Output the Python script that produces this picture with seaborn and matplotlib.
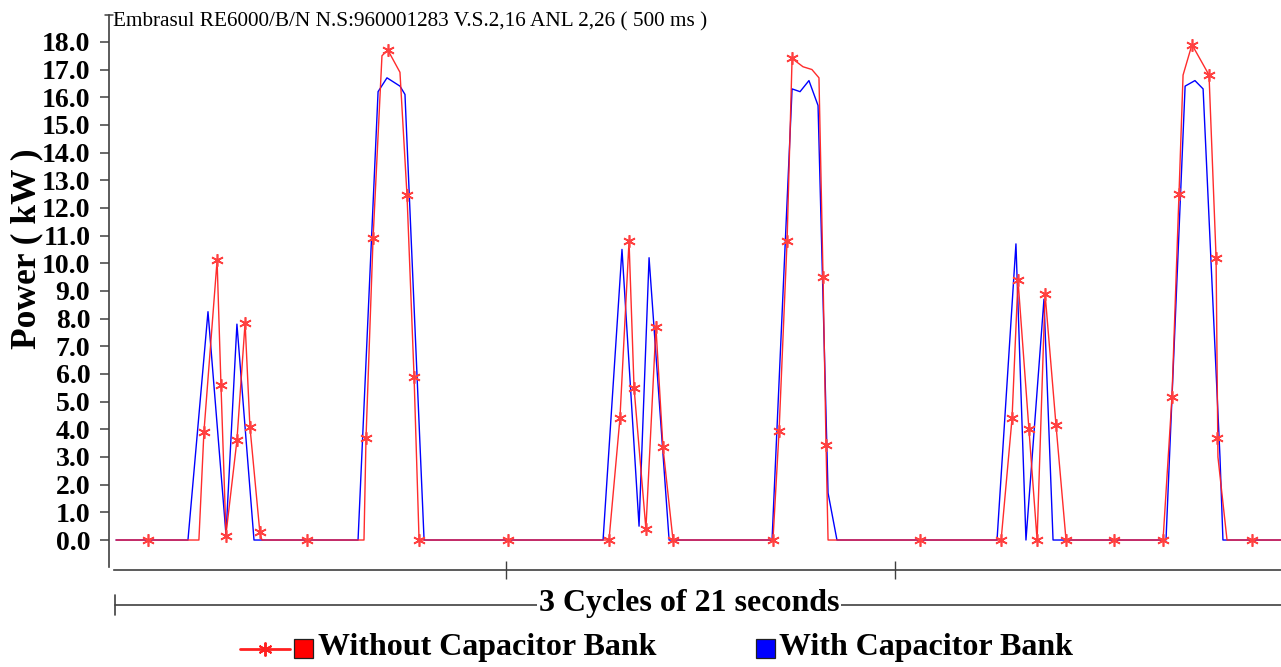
import matplotlib
matplotlib.use("Agg")
import matplotlib.pyplot as plt
from matplotlib.patches import Rectangle
import seaborn as sns
import pandas as pd

# ---------------- data (time in seconds, power in kW) ----------------
red_t = [0.0, 4.47, 4.74, 5.45, 5.66, 5.93, 6.52, 6.96, 7.22, 7.76, 7.87,
         13.37, 13.48, 13.86, 14.34, 14.66, 15.31, 15.69, 16.07, 16.34,
         26.58, 27.17, 27.66, 27.93, 28.57, 29.11, 29.49, 30.03,
         35.42, 35.75, 36.18, 36.45, 37.04, 37.52, 37.90, 38.12, 38.28, 38.39,
         47.72, 48.31, 48.63, 49.22, 49.66, 50.09, 50.68, 51.22,
         56.45, 56.93, 57.31, 57.53, 58.01, 58.93, 59.31, 59.41, 59.90, 62.81]
red_kw = [0.0, 0.0, 3.9, 10.1, 5.6, 0.2, 3.6, 7.85, 4.1, 0.25, 0.0,
          0.0, 3.7, 10.9, 17.5, 17.7, 16.9, 12.45, 5.9, 0.0,
          0.0, 4.4, 10.8, 5.5, 0.4, 7.7, 3.35, 0.0,
          0.0, 3.95, 10.8, 17.4, 17.1, 17.0, 16.7, 9.5, 3.45, 0.0,
          0.0, 4.4, 9.4, 4.0, 0.0, 8.9, 4.15, 0.0,
          0.0, 5.15, 12.5, 16.8, 17.9, 16.8, 10.2, 3.0, 0.0, 0.0]

blue_t = [0.0, 3.88, 4.96, 5.93, 6.52, 7.44,
          13.05, 14.13, 14.61, 15.31, 15.58, 16.61,
          26.26, 27.28, 28.20, 28.74, 29.82,
          35.37, 36.45, 36.88, 37.36, 37.85, 38.39, 38.87,
          47.50, 48.52, 49.06, 50.03, 50.52,
          56.61, 57.64, 58.17, 58.61, 59.52, 59.68, 62.81]
blue_kw = [0.0, 0.0, 8.25, 0.2, 7.8, 0.0,
           0.0, 16.2, 16.7, 16.4, 16.1, 0.0,
           0.0, 10.5, 0.5, 10.2, 0.0,
           0.0, 16.3, 16.2, 16.6, 15.7, 1.7, 0.0,
           0.0, 10.7, 0.0, 8.7, 0.0,
           0.0, 16.4, 16.6, 16.3, 3.0, 0.0, 0.0]

marker_t = [1.73, 4.74, 5.45, 5.66, 5.93, 6.52, 6.96, 7.22, 7.76, 10.30,
            13.48, 13.86, 14.66, 15.69, 16.07, 16.34, 21.13,
            26.58, 27.17, 27.66, 27.93, 28.57, 29.11, 29.49, 30.03,
            35.42, 35.75, 36.18, 36.45, 38.12, 38.28, 43.35,
            47.72, 48.31, 48.63, 49.22, 49.66, 50.09, 50.68, 51.22, 53.81,
            56.45, 56.93, 57.31, 58.01, 58.93, 59.31, 59.36, 61.25]
marker_kw = [0.0, 3.9, 10.1, 5.6, 0.15, 3.6, 7.85, 4.1, 0.3, 0.0,
             3.7, 10.9, 17.7, 12.45, 5.9, 0.0, 0.0,
             0.0, 4.4, 10.8, 5.5, 0.4, 7.7, 3.35, 0.0,
             0.0, 3.95, 10.8, 17.4, 9.5, 3.45, 0.0,
             0.0, 4.4, 9.4, 4.0, 0.0, 8.9, 4.15, 0.0, 0.0,
             0.0, 5.15, 12.5, 17.9, 16.8, 10.2, 3.7, 0.0]

y_ticks = [float(v) for v in range(0, 19)]
cycle_ticks = [21, 42]
title_text = "Embrasul RE6000/B/N N.S:960001283 V.S.2,16 ANL 2,26 ( 500 ms )"
ylabel_text = "Power ( kW )"
xlabel_text = "3 Cycles of 21 seconds"
legend_labels = ["Without Capacitor Bank", "With Capacitor Bank"]

RED = "#ff2020"
BLUE = "#0000ff"
AXC = "#404040"

# ---------------- figure ----------------
sns.set_theme(style="white")
plt.rcParams["font.family"] = ["Liberation Serif", "DejaVu Serif"]

W, H = 1281, 667
fig = plt.figure(figsize=(W / 100, H / 100), dpi=100)
fig.patch.set_facecolor("white")

ax_left, ax_right = 109 / W, 1.0
ax_bot, ax_top = 1 - 567 / H, 1 - 15 / H
ax = fig.add_axes([ax_left, ax_bot, ax_right - ax_left, ax_top - ax_bot])
ax.set_facecolor("white")

df_red = pd.DataFrame({"t": red_t, "kw": red_kw})
df_blue = pd.DataFrame({"t": blue_t, "kw": blue_kw})
df_mk = pd.DataFrame({"t": marker_t, "kw": marker_kw})

sns.lineplot(data=df_blue, x="t", y="kw", ax=ax, color=BLUE, lw=1.0,
             sort=False, estimator=None, zorder=2)
sns.lineplot(data=df_red, x="t", y="kw", ax=ax, color=RED, lw=1.0,
             sort=False, estimator=None, zorder=3, alpha=0.95)
ax.plot(df_mk["t"], df_mk["kw"], ls="none", marker=(6, 2, 0), ms=9,
        mew=1.2, color="#ff4040", zorder=4)

ax.set_xlim(-0.377, 62.81)
ax.set_ylim(-0.975, 18.97)
ax.set_xlabel("")
ax.set_ylabel("")

ax.set_yticks(y_ticks)
ax.set_yticklabels([f"{v:.1f}" for v in y_ticks], fontsize=20,
                   fontweight="bold", color="black")
ax.tick_params(axis="y", direction="out", length=6.5, width=1.1, color=AXC,
               pad=7, left=True)

ax.set_xticks(cycle_ticks)
ax.set_xticklabels([])
ax.tick_params(axis="x", direction="inout", length=13, width=1.0, color=AXC,
               bottom=True)

for s in ["top", "right"]:
    ax.spines[s].set_visible(False)
ax.spines["left"].set_color(AXC)
ax.spines["left"].set_linewidth(1.2)
ax.spines["bottom"].set_color(AXC)
ax.spines["bottom"].set_linewidth(1.2)
ax.spines["bottom"].set_position(("outward", 2.2))
ax.spines["bottom"].set_bounds(-0.1, 62.81)

# ---------------- overlay for annotations ----------------
ov = fig.add_axes([0, 0, 1, 1], facecolor="none")
ov.set_xlim(0, W)
ov.set_ylim(H, 0)
ov.axis("off")

# top cap of y axis
ov.plot([105, 113], [15, 15], color=AXC, lw=1.1)

# title
ov.text(113, 22, title_text, fontsize=15.3, ha="left", va="center", color="black")

# y label
ov.text(27, 249, ylabel_text, fontsize=25.5, fontweight="bold", rotation=90,
        ha="center", va="center", color="black")

# cycles line
ov.plot([115, W], [605, 605], color=AXC, lw=1.2)
ov.plot([115, 115], [595, 615], color=AXC, lw=1.2)
ov.text(689, 603, xlabel_text, fontsize=23, fontweight="bold", ha="center",
        va="center", color="black",
        bbox=dict(facecolor="white", edgecolor="none", pad=1.5))

# legend
ov.plot([240, 290], [649, 649], color=RED, lw=2.0)
ov.plot([265], [649], marker=(6, 2, 0), ms=10, mew=1.4, color=RED)
ov.add_patch(Rectangle((294, 639), 19, 19, facecolor="#ff0000",
                       edgecolor="#202020", lw=0.9))
ov.text(318, 648, legend_labels[0], fontsize=23, fontweight="bold",
        ha="left", va="center", color="black")
ov.add_patch(Rectangle((756, 639), 19, 19, facecolor="#0000ff",
                       edgecolor="#202020", lw=0.9))
ov.text(779, 648, legend_labels[1], fontsize=23, fontweight="bold",
        ha="left", va="center", color="black")

fig.savefig("out.png", dpi=100)
